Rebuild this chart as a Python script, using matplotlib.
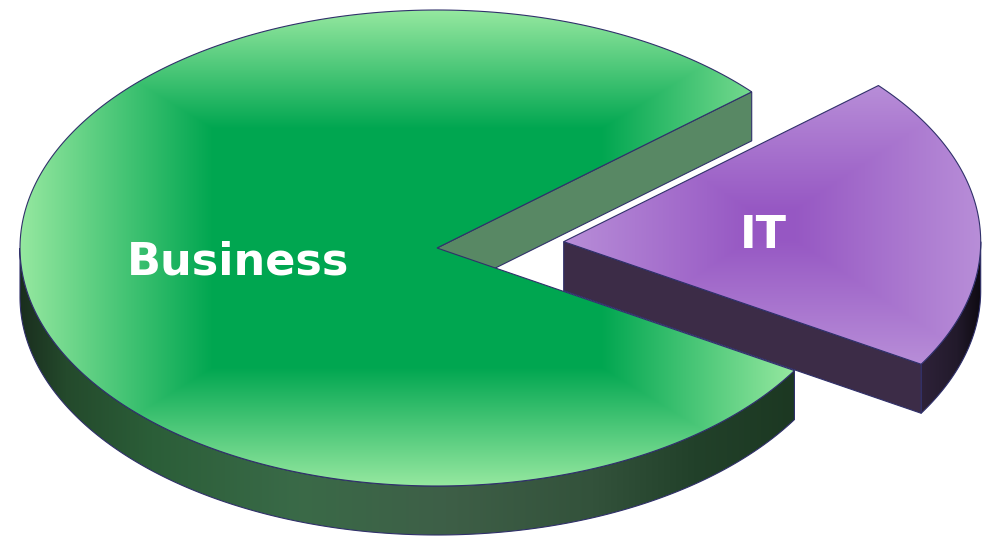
import numpy as np
import matplotlib
matplotlib.use("Agg")
import matplotlib.pyplot as plt
from matplotlib.patches import Polygon
from matplotlib.colors import to_rgb

# slices, counter-clockwise from the start angle
labels = ["IT", "Business"]
values = [20, 80]
explode = [0.305, 0.0]

top_dark = ["#9657c3", "#00a650"]
top_light = ["#b88ed8", "#96e8a0"]
top_flat = [0.1, 0.5]
cut_color = ["#3c2c47", "#588864"]
wall_stops = [
    [(0.0, "#2e2239"), (0.6, "#221a2b"), (1.0, "#0e0a12")],
    [(0.0, "#1a2e1e"), (0.06, "#244a2c"), (0.17, "#2b5e38"), (0.36, "#3a6a48"),
     (0.55, "#3e5f47"), (0.74, "#33523b"), (0.87, "#22412a"), (1.0, "#1c3822")],
]
edge = "#30306a"

W, H = 984, 540
cx, cy, rx, ry, depth = 437, 248, 417, 238, 49
start = -31
label_r = 0.48

fig = plt.figure(figsize=(9.84, 5.4), dpi=100)
ax = fig.add_axes([0, 0, 1, 1])
ax.axis("off")

yy, xx = np.mgrid[0:H, 0:W] + 0.5


def arc(t1, t2, ox, oy, dz=0, n=300):
    t = np.radians(np.linspace(t1, t2, n))
    return np.column_stack([cx + ox + rx * np.cos(t), cy + oy - ry * np.sin(t) + dz])


def front_ranges(t1, t2):
    out = []
    for k in (-1, 0, 1):
        a, b = max(t1, 180 + 360 * k), min(t2, 360 + 360 * k)
        if b > a:
            out.append((a, b))
    return out


def box_grad(poly, dark, light, flat):
    x0, y0 = poly.min(axis=0)
    x1, y1 = poly.max(axis=0)
    u = np.abs(xx - (x0 + x1) / 2) / ((x1 - x0) / 2)
    v = np.abs(yy - (y0 + y1) / 2) / ((y1 - y0) / 2)
    t = np.clip((np.maximum(u, v) - flat) / (1 - flat), 0, 1)
    d, l = np.array(to_rgb(dark)), np.array(to_rgb(light))
    return d + (l - d) * t[..., None]


def h_grad(poly, stops):
    x0, x1 = poly[:, 0].min(), poly[:, 0].max()
    pos = [x0 + s * (x1 - x0) for s, _ in stops]
    cols = np.array([to_rgb(c) for _, c in stops])
    rgb = np.stack([np.interp(xx[0], pos, cols[:, i]) for i in range(3)], axis=-1)
    return np.broadcast_to(rgb, (H, W, 3))


def fill(poly, rgb, z):
    patch = Polygon(poly, closed=True, facecolor="none", edgecolor=edge,
                    lw=0.8, zorder=z + 0.5)
    ax.add_patch(patch)
    im = ax.imshow(rgb, extent=(0, W, H, 0), zorder=z, aspect="auto",
                   interpolation="bilinear")
    im.set_clip_path(patch)


fracs = np.array(values) / sum(values)
bounds = start + 360 * np.concatenate([[0], np.cumsum(fracs)])

# draw the slice at the back first, exploded slice last
order = [1, 0]
for z, i in enumerate(order):
    t1, t2 = bounds[i], bounds[i + 1]
    mid = np.radians((t1 + t2) / 2)
    ox = explode[i] * rx * np.cos(mid)
    oy = -explode[i] * ry * np.sin(mid)
    c = np.array([cx + ox, cy + oy])
    zb = 10 * z

    # outer wall
    for a, b in front_ranges(t1, t2):
        top = arc(a, b, ox, oy)
        bot = arc(a, b, ox, oy, depth)[::-1]
        poly = np.vstack([top, bot])
        fill(poly, h_grad(poly, wall_stops[i]), zb + 1)

    # cut faces
    for t, vis in ((t1, np.cos(np.radians(t1)) > 0), (t2, np.cos(np.radians(t2)) < 0)):
        if vis:
            p = arc(t, t, ox, oy, n=1)[0]
            poly = np.array([c, p, p + [0, depth], c + [0, depth]])
            ax.add_patch(Polygon(poly, closed=True, facecolor=cut_color[i],
                                 edgecolor=edge, lw=0.8, zorder=zb + 2))

    # top face
    poly = np.vstack([c, arc(t1, t2, ox, oy)])
    fill(poly, box_grad(poly, top_dark[i], top_light[i], top_flat[i]), zb + 4)

    # label
    fs = 32
    cap = fs * 100 / 72 * 0.729
    lx = c[0] + label_r * rx * np.cos(mid)
    ly = c[1] - label_r * ry * np.sin(mid)
    ax.text(lx, ly + cap / 2, labels[i], color="white", fontsize=fs,
            fontweight="bold", family="DejaVu Sans", ha="center", va="baseline",
            zorder=zb + 6)

ax.set_xlim(0, W)
ax.set_ylim(H, 0)
fig.savefig("out.png", dpi=100, facecolor="white")
